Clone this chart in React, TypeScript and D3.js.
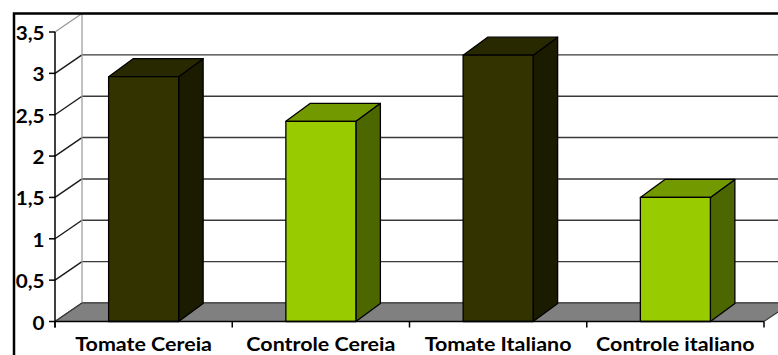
import React from "react";
import * as d3 from "d3";

// Chart data
const categories = ["Tomate Cereia", "Controle Cereia", "Tomate Italiano", "Controle italiano"];
const values = [2.96, 2.42, 3.22, 1.5];
const yTicks = [0, 0.5, 1, 1.5, 2, 2.5, 3, 3.5];
const yTickLabels = ["0", "0,5", "1", "1,5", "2", "2,5", "3", "3,5"];

// Face colours per bar (front, top, side)
const palette = [
  { front: "#333300", top: "#292900", side: "#1b1b00" },
  { front: "#99cc00", top: "#739900", side: "#4c6600" },
  { front: "#333300", top: "#292900", side: "#1b1b00" },
  { front: "#99cc00", top: "#739900", side: "#4c6600" },
];

const W = 778;
const H = 355;
const plotLeft = 55;
const plotRight = 764;
const yBottom = 321.5;
const yTop = 32;
// oblique depth of the walls and of the columns
const WDX = 27;
const WDY = 18.5;
const BDX = 24.5;
const BDY = 18;

const FONT = "Lato, 'Open Sans', sans-serif";

export default function App() {
  const y = d3.scaleLinear().domain([0, 3.5]).range([yBottom, yTop]);
  const x = d3
    .scaleBand<string>()
    .domain(categories)
    .range([plotLeft, plotRight])
    .paddingInner(0.605)
    .paddingOuter(0.3025);
  const step = x.step();
  const y0 = y(0);

  const catTicks = d3.range(categories.length + 1).map((i) => plotLeft + i * step);

  const floor = [
    [plotLeft, y0],
    [plotLeft + WDX, y0 - WDY],
    [plotRight + WDX, y0 - WDY],
    [plotRight, y0],
  ];
  const line = d3.line();

  return (
    <svg
      width={W}
      height={H}
      viewBox={`0 0 ${W} ${H}`}
      style={{ position: "fixed", left: 0, top: 0, background: "#fff" }}
    >
      <rect x={0} y={0} width={W} height={H} fill="#fff" />

      {/* back wall gridlines */}
      {yTicks.map((v, i) => {
        const top = i === yTicks.length - 1;
        return (
          <line
            key={"g" + v}
            x1={plotLeft + WDX}
            x2={plotRight + WDX}
            y1={y(v) - WDY}
            y2={y(v) - WDY}
            stroke={top ? "#9a9a9a" : "#3a3a3a"}
            strokeWidth={1.4}
          />
        );
      })}
      {/* side wall gridlines */}
      {yTicks.map((v, i) => {
        const top = i === yTicks.length - 1;
        return (
          <line
            key={"s" + v}
            x1={plotLeft}
            x2={plotLeft + WDX}
            y1={y(v)}
            y2={y(v) - WDY}
            stroke={top ? "#9a9a9a" : "#1a1a1a"}
            strokeWidth={1.4}
          />
        );
      })}
      {/* back wall left edge */}
      <line
        x1={plotLeft + WDX}
        x2={plotLeft + WDX}
        y1={y(0) - WDY}
        y2={y(3.5) - WDY}
        stroke="#a0a0a0"
        strokeWidth={1.3}
      />

      {/* floor */}
      <path d={line(floor as [number, number][]) + "Z"} fill="#808080" stroke="#3a3a3a" strokeWidth={1.2} />

      {/* columns */}
      {categories.map((c, i) => {
        const x0 = x(c) as number;
        const x1 = x0 + x.bandwidth();
        const yt = y(values[i]);
        const col = palette[i];
        const top = [
          [x0, yt],
          [x0 + BDX, yt - BDY],
          [x1 + BDX, yt - BDY],
          [x1, yt],
        ] as [number, number][];
        const side = [
          [x1, yt],
          [x1 + BDX, yt - BDY],
          [x1 + BDX, y0 - BDY],
          [x1, y0],
        ] as [number, number][];
        return (
          <g key={c} stroke="#000" strokeWidth={1.3} strokeLinejoin="round">
            <path d={line(side) + "Z"} fill={col.side} />
            <path d={line(top) + "Z"} fill={col.top} />
            <rect x={x0} y={yt} width={x1 - x0} height={y0 - yt} fill={col.front} />
          </g>
        );
      })}

      {/* value axis */}
      <line x1={plotLeft} x2={plotLeft} y1={y(3.5)} y2={y0 + 6} stroke="#000" strokeWidth={1.5} />
      {yTicks.map((v, i) => (
        <g key={"t" + v}>
          <line x1={plotLeft - 6} x2={plotLeft} y1={y(v)} y2={y(v)} stroke="#000" strokeWidth={1.5} />
          <text
            transform={`translate(44.5,${y(v) + 8}) scale(1.06,1)`}
            textAnchor="end"
            fontFamily={FONT}
            fontWeight={700}
            fontSize={19.5}
            fill="#000"
          >
            {yTickLabels[i]}
          </text>
        </g>
      ))}

      {/* category axis */}
      <line x1={plotLeft} x2={plotRight} y1={y0} y2={y0} stroke="#000" strokeWidth={1.5} />
      {catTicks.map((t) => (
        <line key={"c" + t} x1={t} x2={t} y1={y0} y2={y0 + 6} stroke="#000" strokeWidth={1.5} />
      ))}
      {categories.map((c) => {
        const cx = (x(c) as number) + x.bandwidth() / 2;
        return (
          <text
            key={"l" + c}
            transform={`translate(${cx},350.5) scale(1.1,1)`}
            textAnchor="middle"
            fontFamily={FONT}
            fontWeight={700}
            fontSize={19.5}
            fill="#000"
          >
            {c}
          </text>
        );
      })}

      {/* chart area border */}
      <rect x={14} y={13.5} width={W + 20} height={H + 20} fill="none" stroke="#000" strokeWidth={2.5} />
    </svg>
  );
}
